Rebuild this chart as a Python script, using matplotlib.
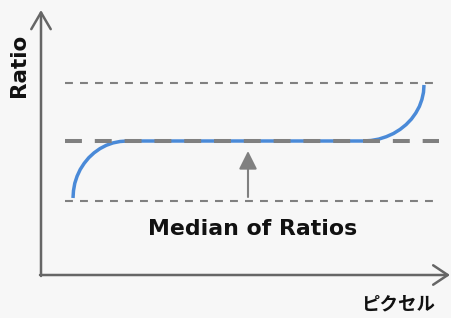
import matplotlib
matplotlib.use("Agg")
import matplotlib.pyplot as plt

# Data (in image-like units; y grows downward)
curve_x = [73, 73.5, 74.8, 77.1, 80.2, 84.2, 88.8, 94.1, 100, 106.3, 113, 120, 127,
           200, 300,
           363, 371, 378.8, 386.3, 393.5, 400.1, 406.1, 411.4, 415.8, 419.4, 421.9, 423.5, 424]
curve_y = [198, 190.6, 183.2, 176.2, 169.5, 163.3, 157.7, 152.8, 148.6, 145.3, 142.9, 141.5, 141,
           141, 141,
           141, 140.5, 139.1, 136.7, 133.5, 129.4, 124.6, 119.1, 113, 106.4, 99.5, 92.3, 85]
ref_levels = [83, 141, 200.5]   # upper, median, lower
ref_x = [65, 439]
label_median = "Median of Ratios"
label_y = "Ratio"
label_x = "ピクセル"

plt.rcParams['font.family'] = ['DejaVu Sans', 'Noto Sans CJK JP']
fig = plt.figure(figsize=(4.52, 3.18), dpi=100, facecolor="#f7f7f7")
ax = fig.add_axes([0, 0, 1, 1])
ax.set_facecolor("#f7f7f7")
ax.set_xlim(0, 452)
ax.set_ylim(318, 0)
ax.axis("off")

gray = "#808080"
axis_c = "#666666"
# reference lines
ax.plot(ref_x, [ref_levels[0]] * 2, color=gray, lw=1.5, dashes=(3.8, 3.4))
ax.plot(ref_x, [ref_levels[2]] * 2, color=gray, lw=1.5, dashes=(3.8, 3.4))
# curve
ax.plot(curve_x, curve_y, color="#4a8ad8", lw=2.5, solid_capstyle="butt", zorder=3)
# median line (drawn over the curve)
ax.plot(ref_x, [ref_levels[1]] * 2, color=gray, lw=2.9, dashes=(4.2, 3.2), zorder=5,
        solid_capstyle="butt", dash_capstyle="butt")

# axes arrows (open chevrons)
ax.annotate("", xy=(41, 10), xytext=(41, 276),
            arrowprops=dict(arrowstyle="->,head_length=1.2,head_width=0.7", color=axis_c, lw=1.8,
                            shrinkA=0, shrinkB=0))
ax.annotate("", xy=(450, 275), xytext=(40, 275),
            arrowprops=dict(arrowstyle="->,head_length=1.05,head_width=0.7", color=axis_c, lw=1.8,
                            shrinkA=0, shrinkB=0))
# median arrow
ax.annotate("", xy=(248, 151), xytext=(248, 197),
            arrowprops=dict(arrowstyle="-|>,head_length=1.1,head_width=0.55", color=gray, lw=1.5,
                            shrinkA=0, shrinkB=0))

ax.text(253, 229, label_median, ha="center", va="center", fontsize=15.8, fontweight="bold", color="#111111")
ax.text(19, 65, label_y, ha="center", va="center", rotation=90, fontsize=15.5, fontweight="bold", color="#111111")
ax.text(398, 304, label_x, ha="center", va="center", fontsize=13.3, fontweight="bold", color="#111111",
        family=['Noto Sans CJK JP', 'DejaVu Sans'])

fig.savefig("out.png", dpi=100, facecolor=fig.get_facecolor())
